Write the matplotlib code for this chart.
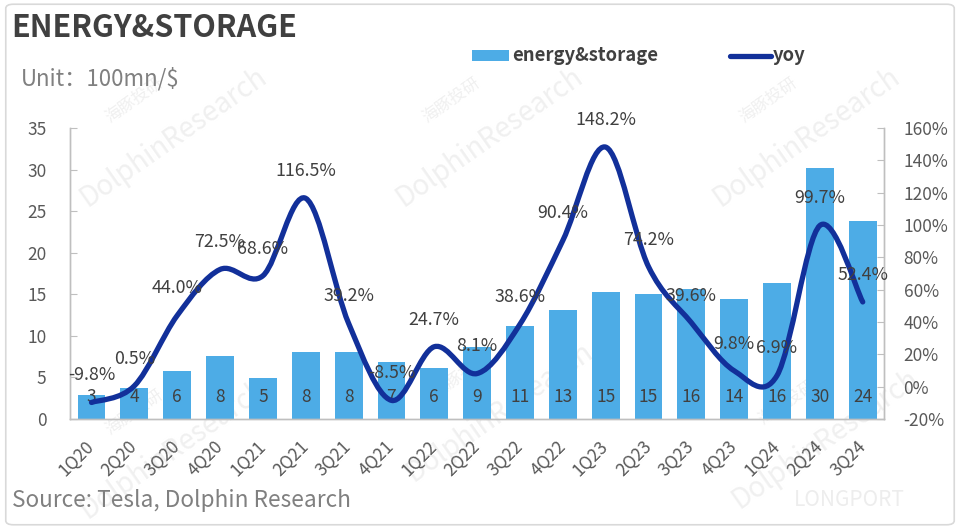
import numpy as np
import matplotlib.pyplot as plt
from matplotlib.path import Path
from matplotlib.patches import PathPatch, Rectangle, FancyBboxPatch
from matplotlib.lines import Line2D

plt.rcParams['font.family'] = ['Noto Sans CJK SC', 'DejaVu Sans']

# data (revenue in 100mn $, yoy in %)
quarters = ['1Q20', '2Q20', '3Q20', '4Q20', '1Q21', '2Q21', '3Q21', '4Q21', '1Q22', '2Q22',
            '3Q22', '4Q22', '1Q23', '2Q23', '3Q23', '4Q23', '1Q24', '2Q24', '3Q24']
revenue = [2.93, 3.70, 5.79, 7.52, 4.94, 8.01, 8.06, 6.88, 6.16, 8.66,
           11.17, 13.10, 15.29, 15.09, 15.59, 14.38, 16.35, 30.14, 23.76]
yoy = [-9.8, 0.5, 44.0, 72.5, 68.6, 116.5, 39.2, -8.5, 24.7, 8.1,
       38.6, 90.4, 148.2, 74.2, 39.6, 9.8, 6.9, 99.7, 52.4]

bar_color = '#4DACE6'
line_color = '#12309A'
text_dark = '#404040'
text_gray = '#595959'
axis_gray = '#BFBFBF'

fig = plt.figure(figsize=(9.6, 5.29), dpi=100)
ax = fig.add_axes([0.073, 0.208, 0.848, 0.55])
ax2 = ax.twinx()

x = np.arange(len(quarters))

# bars + value labels
ax.bar(x, revenue, width=0.65, color=bar_color, zorder=2)
for xi, v in zip(x, revenue):
    ax.annotate('%.0f' % v, (xi, 0), xytext=(0, 16), textcoords='offset points',
                ha='center', va='center', fontsize=12.5, color=text_dark, zorder=3)

ax.set_xlim(-0.5, len(quarters) - 0.5)
ax.set_ylim(0, 35)
ax.set_yticks(np.arange(0, 36, 5))
ax.set_xticks(x)
ax.set_xticklabels(quarters, rotation=45, ha='right', va='center', rotation_mode='anchor')
ax.tick_params(axis='x', length=0, pad=18, labelsize=12.5, labelcolor=text_gray)
ax.tick_params(axis='y', direction='in', length=5, color=axis_gray, pad=17,
               labelsize=12.5, labelcolor=text_gray)

# smoothed yoy line (excel-like bezier through the points)
ax2.set_ylim(-20, 160)
pts = np.column_stack([x, yoy]).astype(float)
n = len(pts)
verts = [tuple(pts[0])]
codes = [Path.MOVETO]
for i in range(n - 1):
    p_prev = pts[max(i - 1, 0)]
    p0 = pts[i]
    p1 = pts[i + 1]
    p_next = pts[min(i + 2, n - 1)]
    c1 = p0 + (p1 - p_prev) / 6.0
    c2 = p1 - (p_next - p0) / 6.0
    verts += [tuple(c1), tuple(c2), tuple(p1)]
    codes += [Path.CURVE4] * 3
ax2.add_patch(PathPatch(Path(verts, codes), facecolor='none', edgecolor=line_color,
                        lw=3.8, capstyle='round', joinstyle='round', zorder=4))
for xi, v in zip(x, yoy):
    ax2.annotate('%.1f%%' % v, (xi, v), xytext=(0, 19.5), textcoords='offset points',
                 ha='center', va='center', fontsize=12.8, color=text_dark, zorder=5)

ax2.set_yticks(np.arange(-20, 161, 20))
ax2.set_yticklabels(['%d%%' % t for t in np.arange(-20, 161, 20)])
ax2.tick_params(axis='y', direction='in', length=5, color=axis_gray, pad=14,
                labelsize=12.5, labelcolor=text_gray)

for a in (ax, ax2):
    a.spines['top'].set_visible(False)
    for s in ('left', 'right', 'bottom'):
        a.spines[s].set_color(axis_gray)
        a.spines[s].set_linewidth(1.0)
ax.set_zorder(ax2.get_zorder() - 1)
ax.patch.set_visible(False)

# outer frame
fig.patches.append(FancyBboxPatch((0.006, 0.008), 0.988, 0.984,
                                  boxstyle='round,pad=0,rounding_size=0.008',
                                  transform=fig.transFigure, facecolor='none',
                                  edgecolor='#D9D9D9', lw=1.2))

# faint watermarks (behind the chart)
for wx, wy in [(0.18, 0.74), (0.51, 0.74), (0.84, 0.74), (0.18, 0.15), (0.52, 0.22), (0.86, 0.17)]:
    fig.text(wx, wy, 'DolphinResearch', rotation=35, fontsize=20, color='#F0F0F0',
             ha='center', va='center', zorder=-5)
    fig.text(wx - 0.04, wy + 0.07, '海豚投研', rotation=35, fontsize=12, color='#F0F0F0',
             ha='center', va='center', zorder=-5)
fig.text(0.885, 0.055, 'LONGPORT', fontsize=15, color='#EDEDED', ha='center', va='center',
         zorder=-5)

# titles
fig.text(0.012, 0.947, 'ENERGY&STORAGE', fontsize=22, fontweight='bold', color=text_dark,
         ha='left', va='center')
fig.text(0.022, 0.851, 'Unit：100mn/$', fontsize=16, color='#808080', ha='left', va='center')
fig.text(0.012, 0.053, 'Source: Tesla, Dolphin Research', fontsize=16.3, color='#808080',
         ha='left', va='center')

# legend
fig.patches.append(Rectangle((0.492, 0.884), 0.038, 0.022, transform=fig.transFigure,
                             facecolor=bar_color, edgecolor='none'))
fig.text(0.534, 0.895, 'energy&storage', fontsize=13.3, fontweight='bold', color=text_dark,
         ha='left', va='center')
fig.lines.append(Line2D([0.760, 0.803], [0.895, 0.895], transform=fig.transFigure,
                        color=line_color, lw=3.8, solid_capstyle='round'))
fig.text(0.805, 0.895, 'yoy', fontsize=13.3, fontweight='bold', color=text_dark,
         ha='left', va='center')

fig.savefig('out.png', dpi=100)
